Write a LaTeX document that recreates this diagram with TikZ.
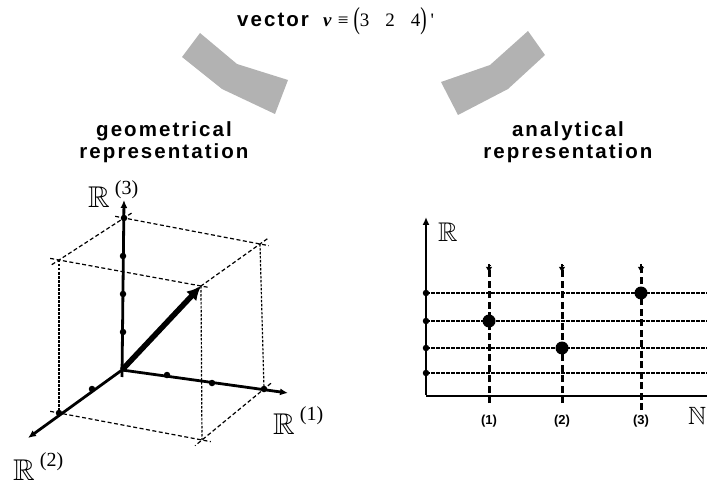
\documentclass[tikz,border=0pt]{standalone}
\usepackage{fontspec}
\usepackage{amssymb}
\usepackage{graphicx}
\usetikzlibrary{arrows.meta}
\setmainfont{Liberation Serif}
\newfontfamily\tnr{Liberation Serif}[Ligatures=TeXOff]
\newfontfamily\headfont{Liberation Sans}[LetterSpace=10]
\newfontfamily\lblfont{Liberation Sans}
\newcommand\bbR[2]{{\fontsize{#1}{#1}\selectfont$\mathbb{#2}$}}
\newcommand\RRsup[1]{\bbR{30}{R}\hspace{5pt}\raisebox{13.5pt}{\fontsize{20}{20}\selectfont\tnr(#1)}}
\begin{document}
\begin{tikzpicture}[x=1pt,y=-1pt,
  head/.style={inner sep=0pt,anchor=base,font=\headfont\bfseries\fontsize{20.5}{22}\selectfont},
  lbl/.style={inner sep=0pt,anchor=base west},
  axisline/.style={line width=2.8pt,-{Latex[length=8pt,width=7pt]}},
  boxline/.style={line width=1.2pt,dash pattern=on 4pt off 2.5pt},
  vboxline/.style={line width=1.2pt,dash pattern=on 2.5pt off 1.5pt},
  hgrid/.style={line width=1.2pt,dash pattern=on 3.5pt off 1.5pt},
  vgrid/.style={line width=3pt,dash pattern=on 7pt off 3.5pt},
  tick/.style={fill=black,circle,inner sep=0pt,minimum size=6.5pt},
  bigdot/.style={fill=black,circle,inner sep=0pt,minimum size=13pt},
  arm/.style={fill=black!30,draw=none},
  num/.style={inner sep=0pt,font=\lblfont\bfseries\fontsize{13}{13}\selectfont}
]
\useasboundingbox (0,0) rectangle (707,481);

% title
\node[lbl,font=\headfont\bfseries\fontsize{20.5}{22}\selectfont] (vec) at (237,27) {vector};
\node[lbl] (formula) at (323,27) {\fontsize{19}{19}\selectfont\tnr\textbf{\textit{v}}\hspace{6pt}≡\hspace{5pt}\raisebox{-1.5pt}{\scalebox{1}[1.6]{(}}3\hspace{16pt}2\hspace{16pt}4\raisebox{-1.5pt}{\scalebox{1}[1.6]{)}}\hspace{4pt}'};

% grey arms
\fill[arm] (200,33) -- (237,64) -- (288,80) -- (275,114) -- (222,89) -- (182,57) -- cycle;
\fill[arm] (528,31) -- (545,55) -- (508,89) -- (458,115) -- (441,82) -- (490,65) -- cycle;

% headings
\node[head] (geo1) at (164,137) {geometrical};
\node[head] (geo2) at (164,159) {representation};
\node[head] (ana1) at (568,137) {analytical};
\node[head] (ana2) at (568,159) {representation};

% ---------- 3D ----------
\coordinate (O) at (122,370);
\coordinate (Xe) at (288,393);
\coordinate (Ye) at (28,438);
\coordinate (Ze) at (124,200);
\coordinate (Zb) at (122,377);
\coordinate (A1) at (264,389);
\coordinate (A2) at (59,413);
\coordinate (A12) at (202,440);
\coordinate (A3) at (124,218);
\coordinate (A13) at (260,244);
\coordinate (A23) at (59,260);
\coordinate (V) at (201,286);

% box
\draw[boxline,shorten <=-9pt,shorten >=-9pt] (A3) -- (A13);
\draw[boxline,shorten <=-9pt,shorten >=-9pt] (A3) -- (A23);
\draw[boxline,shorten <=-9pt,shorten >=-9pt] (A23) -- (V);
\draw[boxline,shorten <=-9pt,shorten >=-9pt] (A13) -- (V);
\draw[boxline,shorten <=-9pt,shorten >=-9pt] (A2) -- (A12);
\draw[boxline,shorten <=-9pt,shorten >=-9pt] (A1) -- (A12);
\draw[vboxline] (A23) -- (A2);
\draw[vboxline] (A13) -- (A1);
\draw[vboxline] (V) -- (A12);

% axes
\draw[axisline] (O) -- (Xe);
\draw[axisline] (O) -- (Ye);
\draw[axisline] (Zb) -- (Ze);

% ticks
\node[tick] (t11) at (167,375) {};
\node[tick] (t12) at (212,383) {};
\node[tick] (t13) at (A1) {};
\node[tick] (t21) at (92,389) {};
\node[tick] (t22) at (A2) {};
\node[tick] (t31) at (123,332) {};
\node[tick] (t32) at (123,294) {};
\node[tick] (t33) at (123,256) {};
\node[tick] (t34) at (A3) {};

% vector
\draw[line width=5.5pt,-{Latex[length=14pt,width=14pt]}] (O) -- (V);

% labels
\node[lbl] (R3) at (88,208) {\RRsup{3}};
\node[lbl] (R1) at (273,434) {\RRsup{1}};
\node[lbl] (R2) at (13,480) {\RRsup{2}};

% ---------- analytical ----------
\coordinate (RO) at (426,396);
\coordinate (RY) at (426,217);
\coordinate (RX) at (707,396);
\foreach \y [count=\i] in {373,348,321,293}{
  \coordinate (hl\i) at (426,\y);
  \coordinate (hr\i) at (707,\y);
  \draw[hgrid] (hl\i) -- (hr\i);
  \node[tick] (ht\i) at (hl\i) {};
}
\draw[line width=2.8pt] (RO) -- (RX);
\draw[line width=2.8pt,-{Latex[length=8pt,width=7pt]}] ([yshift=1.4pt]RO) -- (RY);

\foreach \x/\b/\n in {489/403/1,562/403/2,641/410/3}{
  \coordinate (vb\n) at (\x,\b);
  \coordinate (vt\n) at (\x,273);
  \draw[vgrid] (vb\n) -- ([yshift=8pt]vt\n);
  \draw[line width=2pt,-{Latex[length=6pt,width=6.5pt]}] ([yshift=9pt]vt\n) -- (vt\n);
  \node[num] (n\n) at (\x,421) {(\n)};
}
\node[bigdot] (d1) at (489,321) {};
\node[bigdot] (d2) at (562,348) {};
\node[bigdot] (d3) at (641,293) {};

\node[lbl] (RR) at (438,242) {\bbR{27}{R}};
\node[lbl] (NN) at (688,424) {\bbR{25}{N}};
\end{tikzpicture}
\end{document}
